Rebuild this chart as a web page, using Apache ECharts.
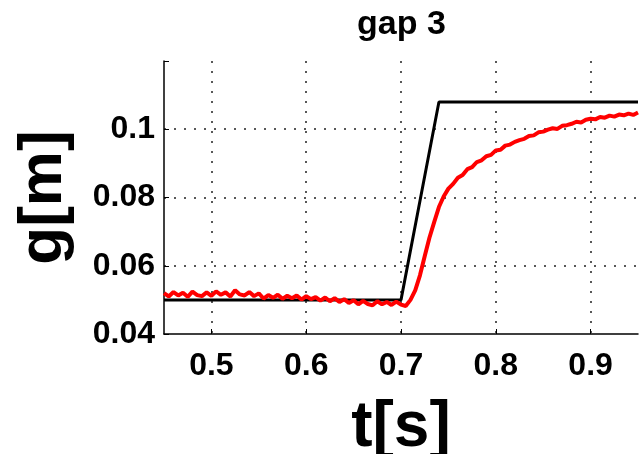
<!DOCTYPE html>
<html>
<head>
<meta charset="utf-8">
<script src="https://cdn.jsdelivr.net/npm/echarts@6/dist/echarts.min.js"></script>
<style>
  html, body { margin: 0; padding: 0; background: #fff; }
  #chart { width: 643px; height: 454px; }
</style>
</head>
<body>
<div id="chart"></div>
<script>
// reference gap (black) - piecewise
const refT = [0.45, 0.70, 0.74, 0.95];
const refG = [0.050, 0.050, 0.108, 0.108];

const measT = [
  0.450, 0.455, 0.460, 0.465, 0.470, 0.475, 0.480, 0.485, 0.490, 0.495,
  0.500, 0.505, 0.510, 0.515, 0.520, 0.525, 0.530, 0.535, 0.540, 0.545,
  0.550, 0.555, 0.560, 0.565, 0.570, 0.575, 0.580, 0.585, 0.590, 0.595,
  0.600, 0.605, 0.610, 0.615, 0.620, 0.625, 0.630, 0.635, 0.640, 0.645,
  0.650, 0.655, 0.660, 0.665, 0.670, 0.675, 0.680, 0.685, 0.690, 0.695,
  0.700, 0.705, 0.710, 0.715, 0.720, 0.725, 0.730, 0.735, 0.740, 0.745,
  0.750, 0.755, 0.760, 0.765, 0.770, 0.775, 0.780, 0.785, 0.790, 0.795,
  0.800, 0.805, 0.810, 0.815, 0.820, 0.825, 0.830, 0.835, 0.840, 0.845,
  0.850, 0.855, 0.860, 0.865, 0.870, 0.875, 0.880, 0.885, 0.890, 0.895,
  0.900, 0.905, 0.910, 0.915, 0.920, 0.925, 0.930, 0.935, 0.940, 0.945,
  0.950
];
const measG = [
  0.0520, 0.0510, 0.0523, 0.0513, 0.0521, 0.0509, 0.0524, 0.0514, 0.0511, 0.0522,
  0.0512, 0.0525, 0.0515, 0.0522, 0.0510, 0.0528, 0.0516, 0.0513, 0.0523, 0.0511,
  0.0519, 0.0504, 0.0514, 0.0506, 0.0515, 0.0503, 0.0512, 0.0505, 0.0513, 0.0501,
  0.0511, 0.0502, 0.0508, 0.0498, 0.0507, 0.0496, 0.0505, 0.0494, 0.0502, 0.0491,
  0.0499, 0.0487, 0.0497, 0.0488, 0.0484, 0.0496, 0.0487, 0.0494, 0.0485, 0.0495,
  0.0486, 0.0482, 0.0500, 0.0528, 0.0572, 0.0628, 0.0682, 0.0728, 0.0772, 0.0803,
  0.0826, 0.0840, 0.0858, 0.0866, 0.0883, 0.0889, 0.0904, 0.0909, 0.0921, 0.0925,
  0.0938, 0.0940, 0.0952, 0.0955, 0.0963, 0.0968, 0.0972, 0.0980, 0.0982, 0.0991,
  0.0993, 0.0999, 0.1003, 0.1001, 0.1010, 0.1012, 0.1016, 0.1022, 0.1020, 0.1028,
  0.1031, 0.1029, 0.1036, 0.1034, 0.1040, 0.1037, 0.1043, 0.1041, 0.1046, 0.1042,
  0.1049
];

const xLabels = [0.5, 0.6, 0.7, 0.8, 0.9];
const yLabels = [0.04, 0.06, 0.08, 0.1];

const zip = (a, b) => a.map((v, i) => [v, b[i]]);
const hasLabel = (list, v) => list.some(l => Math.abs(l - v) < 1e-6);

const font = 'Liberation Sans, Arial, sans-serif';
const dotted = { color: '#222', width: 1.5, type: [2, 8] };

const chart = echarts.init(document.getElementById('chart'));
const option = {
  animation: false,
  backgroundColor: '#fff',
  title: {
    text: 'gap 3',
    left: 352,
    top: 3,
    textStyle: { fontFamily: font, fontWeight: 'bold', fontSize: 34, color: '#000' }
  },
  grid: { left: 164, right: 5, top: 61, bottom: 120, outerBoundsMode: 'none', containLabel: false },
  xAxis: {
    type: 'value',
    min: 0.45,
    max: 0.95,
    splitNumber: 5,
    name: 't[s]',
    nameLocation: 'middle',
    nameGap: 62,
    nameTextStyle: { fontFamily: font, fontWeight: 'bold', fontSize: 64, color: '#000' },
    axisLine: { lineStyle: { color: '#000', width: 1.5 } },
    axisTick: { inside: true, length: 5, lineStyle: { color: '#000' } },
    axisLabel: {
      margin: 16,
      fontFamily: font, fontWeight: 'bold', fontSize: 32, color: '#000',
      showMinLabel: false, showMaxLabel: false,
      formatter: v => hasLabel(xLabels, v) ? String(+v.toFixed(2)) : ''
    },
    splitLine: { show: true, showMinLine: false, showMaxLine: false, lineStyle: dotted }
  },
  yAxis: {
    type: 'value',
    min: 0.04,
    max: 0.12,
    interval: 0.02,
    name: 'g[m]',
    nameLocation: 'middle',
    nameRotate: 90,
    nameGap: 89,
    nameTextStyle: { fontFamily: font, fontWeight: 'bold', fontSize: 62, color: '#000' },
    axisLine: { show: true, lineStyle: { color: '#000', width: 1.5 } },
    axisTick: { show: true, inside: true, length: 5, lineStyle: { color: '#000' } },
    axisLabel: {
      margin: 9,
      fontFamily: font, fontWeight: 'bold', fontSize: 32, color: '#000',
      formatter: v => hasLabel(yLabels, v) ? String(+v.toFixed(2)) : ''
    },
    splitLine: { show: true, showMinLine: false, showMaxLine: false, lineStyle: dotted }
  },
  series: [
    {
      type: 'line',
      data: zip(refT, refG),
      showSymbol: false,
      lineStyle: { color: '#000', width: 3 },
      z: 2
    },
    {
      type: 'line',
      data: zip(measT, measG),
      showSymbol: false,
      lineStyle: { color: '#ff0000', width: 4 },
      z: 3
    }
  ]
};
chart.setOption(option);
</script>
</body>
</html>
